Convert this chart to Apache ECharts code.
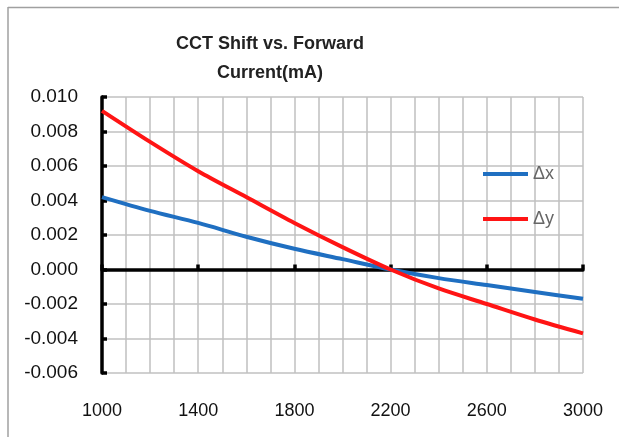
<!DOCTYPE html>
<html>
<head>
<meta charset="utf-8">
<style>
html,body{margin:0;padding:0;background:#fff;}
#c{width:619px;height:437px;}
</style>
<script src="https://cdn.jsdelivr.net/npm/echarts@6/dist/echarts.min.js"></script>
</head>
<body>
<div id="c"></div>
<script>
var currents = [1000, 1200, 1400, 1600, 1800, 2000, 2200, 2400, 2600, 2800, 3000];
var deltaX = [0.0042, 0.0034, 0.0027, 0.0019, 0.0012, 0.0006, 0.0000, -0.0005, -0.0009, -0.0013, -0.0017];
var deltaY = [0.0092, 0.0074, 0.0057, 0.0042, 0.0027, 0.0013, 0.0000, -0.0011, -0.0020, -0.0029, -0.0037];
var seriesNames = ['\u0394x', '\u0394y'];
var titleLines = ['CCT Shift vs. Forward', 'Current(mA)'];

function pairs(xs, ys){ return xs.map(function(x,i){ return [x, ys[i]]; }); }

var chart = echarts.init(document.getElementById('c'), null, {renderer:'canvas'});
var gridColor = '#c0c0c0';
var font = "'Liberation Sans',sans-serif";
chart.setOption({
  animation:false,
  backgroundColor:'#fff',
  graphic:[{
    type:'line', silent:true,
    shape:{x1:8, y1:7, x2:8, y2:440},
    style:{stroke:'#a0a0a0', lineWidth:1.5}
  },{
    type:'line', silent:true,
    shape:{x1:8, y1:7.5, x2:630, y2:7.5},
    style:{stroke:'#a0a0a0', lineWidth:1.5}
  }],
  title:{
    text: titleLines.join('\n'),
    left: 265, top: 25, textAlign:'center',
    textStyle:{fontFamily:font, fontSize:18, fontWeight:'bold', color:'#222', lineHeight:29}
  },
  legend:{
    orient:'vertical', left:478, top:160, itemGap:27,
    itemWidth:45, itemHeight:4, icon:'rect',
    textStyle:{fontFamily:font, fontSize:18, color:'#666'},
    data: seriesNames
  },
  grid:{left:102, right:36, top:97, bottom:64},
  xAxis:[{
    type:'value', min:1000, max:3000, interval:400, position:'bottom',
    axisLine:{show:false, onZero:false},
    axisTick:{show:false},
    axisLabel:{margin:29, fontFamily:font, fontSize:18, color:'#111',
      formatter:function(v){ return String(v); }},
    splitLine:{show:true, lineStyle:{color:gridColor, width:1.5}},
    minorTick:{show:false, splitNumber:4},
    minorSplitLine:{show:true, lineStyle:{color:gridColor, width:1.5}}
  },{
    type:'value', min:1000, max:3000, interval:400, position:'bottom',
    axisLine:{show:true, onZero:true, lineStyle:{color:'#000', width:3.5}},
    axisTick:{show:true, inside:true, length:5, lineStyle:{color:'#000', width:3.5}},
    axisLabel:{show:false},
    splitLine:{show:false}
  }],
  yAxis:{
    type:'value', min:-0.006, max:0.010, interval:0.002,
    axisLine:{show:true, onZero:false, lineStyle:{color:'#000', width:3.5}},
    axisTick:{show:true, inside:true, length:5, lineStyle:{color:'#000', width:3.5}},
    axisLabel:{margin:24, fontFamily:font, fontSize:19, color:'#111',
      formatter:function(v){ return v.toFixed(3); }},
    splitLine:{show:true, lineStyle:{color:gridColor, width:1.5}}
  },
  series:[{
    name:seriesNames[0], type:'line', xAxisIndex:0, smooth:0.3, symbol:'none',
    data:pairs(currents, deltaX), lineStyle:{color:'#1f6fc1', width:4}, itemStyle:{color:'#1f6fc1'}, z:3
  },{
    name:seriesNames[1], type:'line', xAxisIndex:0, smooth:0.3, symbol:'none',
    data:pairs(currents, deltaY), lineStyle:{color:'#ff1414', width:4}, itemStyle:{color:'#ff1414'}, z:4
  }]
});
</script>
</body>
</html>
